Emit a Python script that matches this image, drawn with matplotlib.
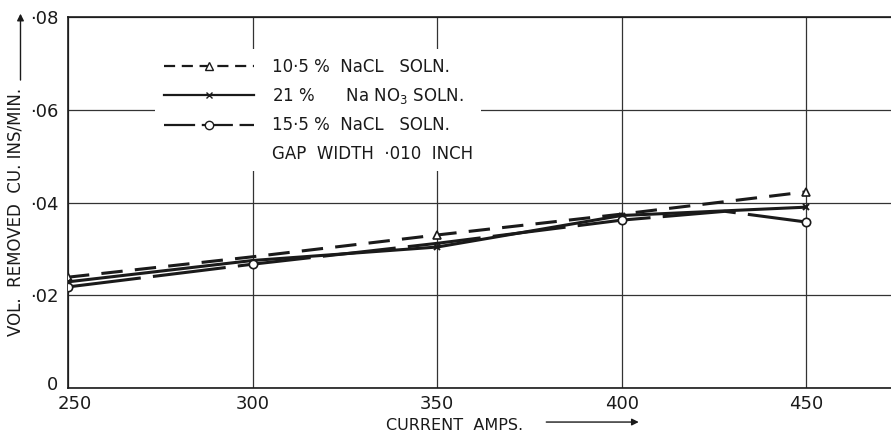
import matplotlib.pyplot as plt
import matplotlib.transforms as mtransforms
from matplotlib.lines import Line2D

# current (amps) and volume removed (cu. ins/min) for each electrolyte
amps = [250, 300, 350, 400, 450]
nacl_105 = [0.0239, 0.0283, 0.0330, 0.0375, 0.0423]
nano3_21 = [0.0229, 0.0275, 0.0304, 0.0372, 0.0390]
amps_155 = [250, 300, 350, 400, 428, 450]
nacl_155 = [0.0218, 0.0267, 0.0312, 0.0362, 0.0381, 0.0358]

x_ticks = [250, 300, 350, 400, 450]
y_ticks = [0, 0.02, 0.04, 0.06, 0.08]
y_labels = ["0", "·02", "·04", "·06", "·08"]

ink = "#1a1a1a"
plt.rcParams["font.family"] = ["DejaVu Sans"]

fig = plt.figure(figsize=(8.91, 4.36), dpi=100)
ax = fig.add_axes([0.0763, 0.110, 0.9237, 0.851])

ax.plot(amps, nacl_105, color=ink, lw=2.2, linestyle=(0, (7, 4)),
        marker="^", ms=6, mfc="white", mec=ink, mew=1.2,
        markevery=[0, 2, 4], zorder=3)
ax.plot(amps, nano3_21, color=ink, lw=2.2,
        marker="x", ms=5, mec=ink, mew=1.4,
        markevery=[0, 2, 3, 4], zorder=3)
ax.plot(amps_155, nacl_155, color=ink, lw=2.2, linestyle=(0, (24, 4)),
        marker="o", ms=6, mfc="white", mec=ink, mew=1.2,
        markevery=[0, 1, 3, 5], zorder=3)

ax.set_xlim(250, 473)
ax.set_ylim(0, 0.08)
ax.set_xticks(x_ticks)
ax.set_xticklabels([str(v) for v in x_ticks])
ax.set_yticks(y_ticks)
ax.set_yticklabels(y_labels)
ax.tick_params(length=0, labelsize=13, colors=ink)
ax.tick_params(axis="x", pad=5)
ax.tick_params(axis="y", pad=7)

# nudge the corner labels apart so "0" and "250" do not collide
first_x = ax.get_xticklabels()[0]
first_x.set_transform(first_x.get_transform() +
                      mtransforms.ScaledTranslation(7 / 100, 0, fig.dpi_scale_trans))
first_y = ax.get_yticklabels()[0]
first_y.set_transform(first_y.get_transform() +
                      mtransforms.ScaledTranslation(0, 5 / 100, fig.dpi_scale_trans))

ax.grid(True, color="#333333", lw=0.9)
ax.set_axisbelow(True)
ax.spines["right"].set_visible(False)
for s in ["left", "bottom", "top"]:
    ax.spines[s].set_color(ink)
    ax.spines[s].set_linewidth(1.2)

handles = [
    Line2D([], [], color=ink, lw=1.6, linestyle=(0, (5, 3)), marker="^",
           ms=6, mfc="white", mec=ink),
    Line2D([], [], color=ink, lw=1.6, marker="x", ms=5, mec=ink),
    Line2D([], [], color=ink, lw=1.6, linestyle=(0, (14, 3)), marker="o",
           ms=6, mfc="white", mec=ink),
    Line2D([], [], color="none"),
]
labels = [
    "10·5 %  NaCL   SOLN.",
    "21 %      Na NO$_3$ SOLN.",
    "15·5 %  NaCL   SOLN.",
    "GAP  WIDTH  ·010  INCH",
]
leg = ax.legend(handles, labels, loc="upper left",
                bbox_to_anchor=(0.096, 0.935), handlelength=5.4,
                handletextpad=1.1, labelspacing=0.62, fontsize=12,
                frameon=True, facecolor="white", edgecolor="none",
                framealpha=1.0, borderpad=0.5)
for t in leg.get_texts():
    t.set_color(ink)

ax.set_xlabel("CURRENT  AMPS.", fontsize=11.5, color=ink)
ax.xaxis.set_label_coords(0.47, -0.082)
ax.set_ylabel("VOL.  REMOVED  CU. INS/MIN.", fontsize=12, color=ink)
ax.yaxis.set_label_coords(-0.053, 0.475)

# direction arrows next to the axis titles
fig.add_artist(plt.Annotation("", xy=(0.023, 0.975), xytext=(0.023, 0.81),
                              xycoords="figure fraction",
                              arrowprops=dict(arrowstyle="-|>", color=ink,
                                              lw=1.0, mutation_scale=10)))
fig.add_artist(plt.Annotation("", xy=(0.72, 0.032), xytext=(0.61, 0.032),
                              xycoords="figure fraction",
                              arrowprops=dict(arrowstyle="-|>", color=ink,
                                              lw=1.0, mutation_scale=10)))

fig.savefig("out.png", dpi=100)
